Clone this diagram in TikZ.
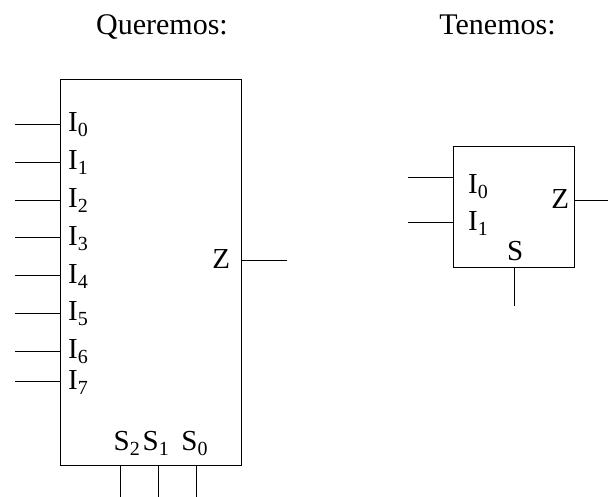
\documentclass[tikz,border=0pt]{standalone}
\usepackage{fontspec}
\setmainfont{Liberation Serif}
\newcommand{\mysub}[2]{#1\raisebox{-5pt}{\fontsize{20}{20}\selectfont #2}}
\begin{document}
\begin{tikzpicture}[x=1pt,y=-1pt,
  wire/.style={line width=0.9pt},
  blk/.style={draw,line width=0.9pt,inner sep=0pt},
  lbl/.style={anchor=base west,inner sep=0pt,font=\fontsize{29}{29}\selectfont},
  ttl/.style={anchor=base,inner sep=0pt,font=\fontsize{30}{30}\selectfont}]
\useasboundingbox (0,0) rectangle (608,497);
% titles
\node[ttl] (t1) at (162,35) {Queremos:};
\node[ttl] (t2) at (497.5,35) {Tenemos:};
% big mux
\node[blk,minimum width=181.7pt,minimum height=386pt] (big) at (150.85,272) {};
\foreach \k/\y in {0/124,1/162,2/200,3/237.7,4/275.7,5/313,6/351,7/381.7}{
  \coordinate (bi\k) at (15,\y);
  \draw[wire] (bi\k) -- (bi\k -| big.west);
  \node[lbl] (bl\k) at (68,\y+7.7) {\mysub{I}{\k}};
}
\node[lbl] (bz) at (212.2,268.3) {Z};
\coordinate (bzo) at (287,260);
\draw[wire] (bzo -| big.east) -- (bzo);
\node[lbl] (bs2) at (113.5,450) {\mysub{S}{2}};
\node[lbl] (bs1) at (142.5,450) {\mysub{S}{1}};
\node[lbl] (bs0) at (181.2,450) {\mysub{S}{0}};
\foreach \k/\x in {2/120.7,1/158.7,0/196.7}{
  \coordinate (bso\k) at (\x,497);
  \draw[wire] (bso\k |- big.south) -- (bso\k);
}
% small mux
\node[blk,minimum width=121pt,minimum height=121pt] (sm) at (513.8,207.2) {};
\coordinate (si0) at (408.3,177.3);
\coordinate (si1) at (408.3,222.7);
\draw[wire] (si0) -- (si0 -| sm.west);
\draw[wire] (si1) -- (si1 -| sm.west);
\node[lbl] (sl0) at (468,193.3) {\mysub{I}{0}};
\node[lbl] (sl1) at (468,230.7) {\mysub{I}{1}};
\node[lbl] (sz) at (551.2,208.3) {Z};
\coordinate (szo) at (608,200);
\draw[wire] (szo -| sm.east) -- (szo);
\node[lbl] (ss) at (507,260.7) {S};
\coordinate (sso) at (514.3,305.7);
\draw[wire] (sso |- sm.south) -- (sso);
\end{tikzpicture}
\end{document}
